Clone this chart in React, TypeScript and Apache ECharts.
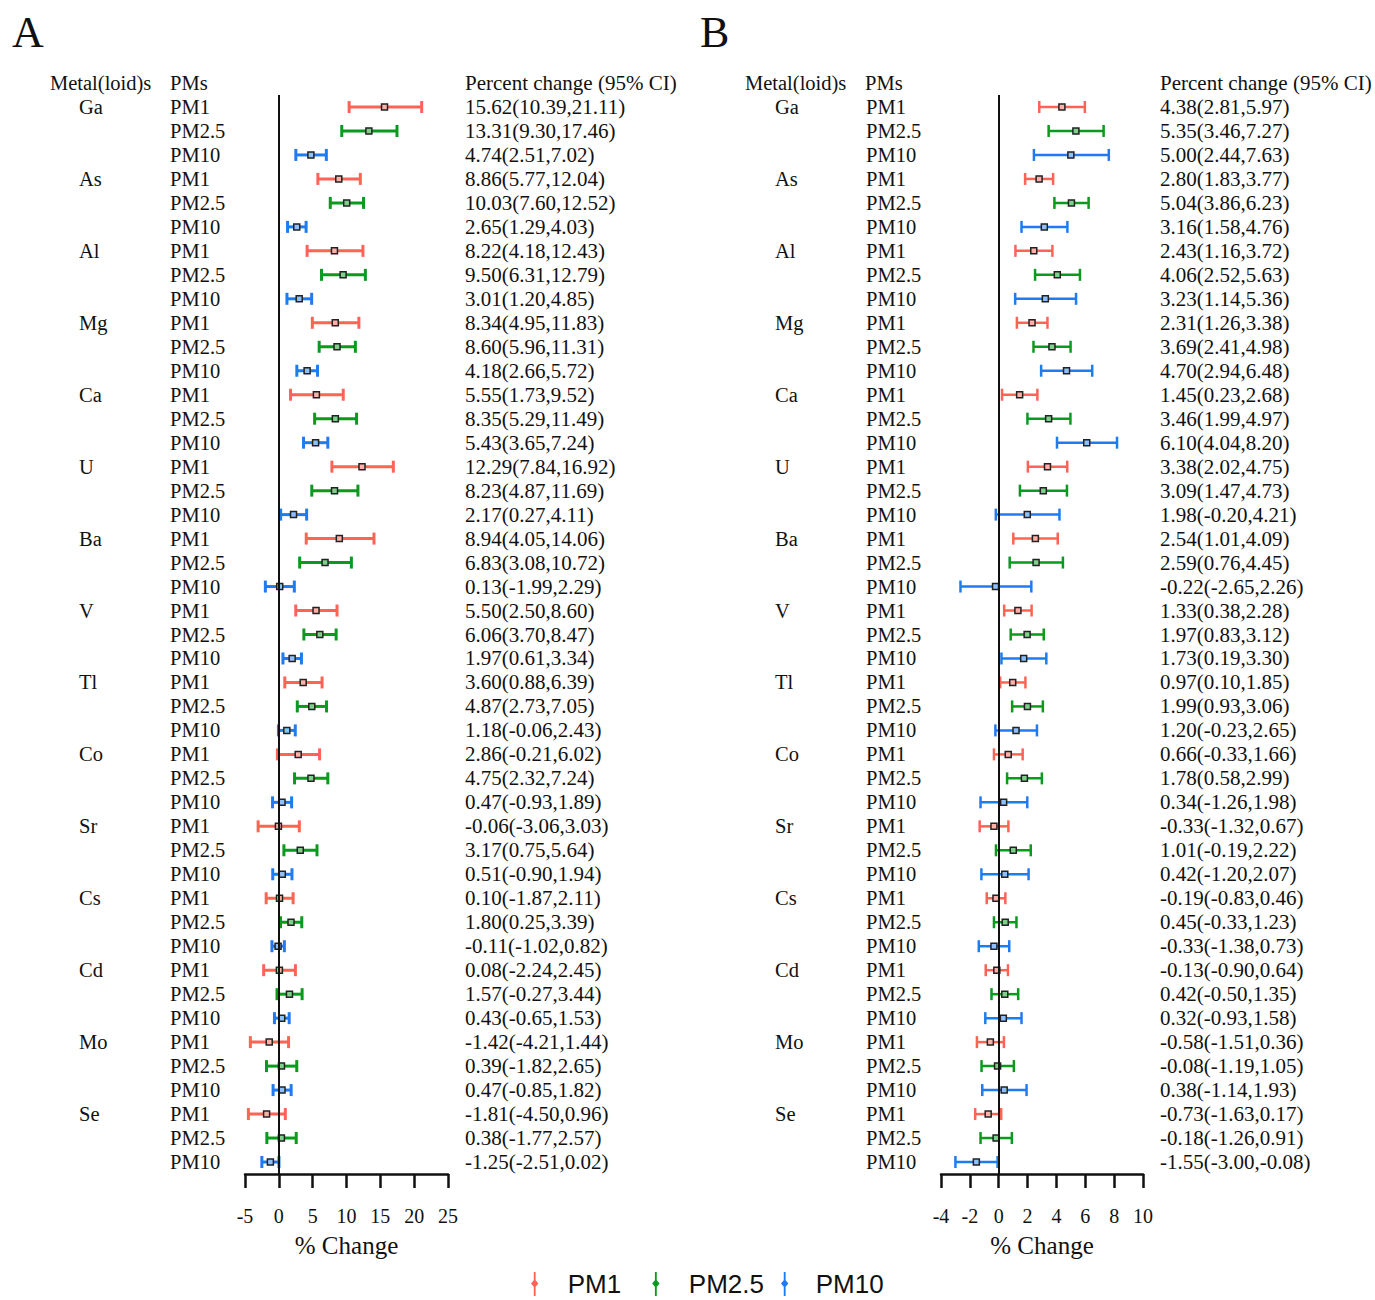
import React, { useEffect, useRef } from "react";
import * as echarts from "echarts";

const elements = ["Ga", "As", "Al", "Mg", "Ca", "U", "Ba", "V", "Tl", "Co", "Sr", "Cs", "Cd", "Mo", "Se"];
const pms = ["PM1", "PM2.5", "PM10"];

// Panel A: [estimate, lower, upper] per element for PM1, PM2.5, PM10
const aPM1 = [[15.62, 10.39, 21.11], [8.86, 5.77, 12.04], [8.22, 4.18, 12.43], [8.34, 4.95, 11.83], [5.55, 1.73, 9.52], [12.29, 7.84, 16.92], [8.94, 4.05, 14.06], [5.5, 2.5, 8.6], [3.6, 0.88, 6.39], [2.86, -0.21, 6.02], [-0.06, -3.06, 3.03], [0.1, -1.87, 2.11], [0.08, -2.24, 2.45], [-1.42, -4.21, 1.44], [-1.81, -4.5, 0.96]];
const aPM25 = [[13.31, 9.3, 17.46], [10.03, 7.6, 12.52], [9.5, 6.31, 12.79], [8.6, 5.96, 11.31], [8.35, 5.29, 11.49], [8.23, 4.87, 11.69], [6.83, 3.08, 10.72], [6.06, 3.7, 8.47], [4.87, 2.73, 7.05], [4.75, 2.32, 7.24], [3.17, 0.75, 5.64], [1.8, 0.25, 3.39], [1.57, -0.27, 3.44], [0.39, -1.82, 2.65], [0.38, -1.77, 2.57]];
const aPM10 = [[4.74, 2.51, 7.02], [2.65, 1.29, 4.03], [3.01, 1.2, 4.85], [4.18, 2.66, 5.72], [5.43, 3.65, 7.24], [2.17, 0.27, 4.11], [0.13, -1.99, 2.29], [1.97, 0.61, 3.34], [1.18, -0.06, 2.43], [0.47, -0.93, 1.89], [0.51, -0.9, 1.94], [-0.11, -1.02, 0.82], [0.43, -0.65, 1.53], [0.47, -0.85, 1.82], [-1.25, -2.51, 0.02]];

// Panel B
const bPM1 = [[4.38, 2.81, 5.97], [2.8, 1.83, 3.77], [2.43, 1.16, 3.72], [2.31, 1.26, 3.38], [1.45, 0.23, 2.68], [3.38, 2.02, 4.75], [2.54, 1.01, 4.09], [1.33, 0.38, 2.28], [0.97, 0.1, 1.85], [0.66, -0.33, 1.66], [-0.33, -1.32, 0.67], [-0.19, -0.83, 0.46], [-0.13, -0.9, 0.64], [-0.58, -1.51, 0.36], [-0.73, -1.63, 0.17]];
const bPM25 = [[5.35, 3.46, 7.27], [5.04, 3.86, 6.23], [4.06, 2.52, 5.63], [3.69, 2.41, 4.98], [3.46, 1.99, 4.97], [3.09, 1.47, 4.73], [2.59, 0.76, 4.45], [1.97, 0.83, 3.12], [1.99, 0.93, 3.06], [1.78, 0.58, 2.99], [1.01, -0.19, 2.22], [0.45, -0.33, 1.23], [0.42, -0.5, 1.35], [-0.08, -1.19, 1.05], [-0.18, -1.26, 0.91]];
const bPM10 = [[5.0, 2.44, 7.63], [3.16, 1.58, 4.76], [3.23, 1.14, 5.36], [4.7, 2.94, 6.48], [6.1, 4.04, 8.2], [1.98, -0.2, 4.21], [-0.22, -2.65, 2.26], [1.73, 0.19, 3.3], [1.2, -0.23, 2.65], [0.34, -1.26, 1.98], [0.42, -1.2, 2.07], [-0.33, -1.38, 0.73], [0.32, -0.93, 1.58], [0.38, -1.14, 1.93], [-1.55, -3.0, -0.08]];

const aTicks = { min: -5, max: 25, interval: 5 };
const bTicks = { min: -4, max: 10, interval: 2 };

const colors = ["#FF6355", "#0A9A1E", "#1F7BF2"];
const fills = ["#FFB0A8", "#7FD08A", "#8FC0FF"];

const SERIF = "'Liberation Serif', 'Times New Roman', serif";
const SANS = "'Liberation Sans', Arial, sans-serif";

function buildRows(p1: number[][], p25: number[][], p10: number[][]) {
  const rows: { el: string; pm: string; pmIdx: number; v: number[] }[] = [];
  elements.forEach((el, i) => {
    [p1, p25, p10].forEach((arr, k) => {
      rows.push({ el, pm: pms[k], pmIdx: k, v: arr[i] });
    });
  });
  return rows;
}

const fmt = (v: number[]) => `${v[0].toFixed(2)}(${v[1].toFixed(2)},${v[2].toFixed(2)})`;

export default function App() {
  const ref = useRef<HTMLDivElement>(null);
  useEffect(() => {
    if (!ref.current) return;
    const chart = echarts.init(ref.current, undefined, { renderer: "svg" });
    const panels = [
      { rows: buildRows(aPM1, aPM25, aPM10), ticks: aTicks, left: 245, width: 203, lw: 3, cap: 6 },
      { rows: buildRows(bPM1, bPM25, bPM10), ticks: bTicks, left: 941, width: 202, lw: 2.5, cap: 6 },
    ];
    const cats = panels[0].rows.map((_, i) => String(i));
    const grids: any[] = [];
    const xAxes: any[] = [];
    const yAxes: any[] = [];
    const series: any[] = [];
    panels.forEach((p, gi) => {
      grids.push({ left: p.left, width: p.width, top: 95, height: 1079 });
      xAxes.push({
        type: "value",
        gridIndex: gi,
        min: p.ticks.min,
        max: p.ticks.max,
        interval: p.ticks.interval,
        splitLine: { show: false },
        axisLine: { show: true, onZero: false, lineStyle: { color: "#111", width: 2.5 } },
        axisTick: { show: true, length: 14, lineStyle: { color: "#111", width: 2.5 } },
        axisLabel: { color: "#111", fontFamily: SERIF, fontSize: 20, margin: 32 },
        name: "% Change",
        nameLocation: "middle",
        nameGap: 59,
        nameTextStyle: { color: "#111", fontFamily: SERIF, fontSize: 25 },
      });
      const baseY = {
        type: "category",
        gridIndex: gi,
        data: cats,
        inverse: true,
        axisLine: { show: false, onZero: false },
        axisTick: { show: false },
        splitLine: { show: false },
      };
      // PM labels
      yAxes.push({
        ...baseY,
        position: "left",
        axisLabel: {
          interval: 0, align: "left", margin: 75, color: "#111", fontFamily: SERIF, fontSize: 20.5,
          formatter: (val: string) => p.rows[+val].pm,
        },
      });
      // element labels
      yAxes.push({
        ...baseY,
        position: "left",
        axisLabel: {
          interval: 0, align: "left", margin: 166, color: "#111", fontFamily: SERIF, fontSize: 20.5,
          formatter: (val: string) => (p.rows[+val].pmIdx === 0 ? p.rows[+val].el : ""),
        },
      });
      // percent change text
      yAxes.push({
        ...baseY,
        position: "right",
        axisLabel: {
          interval: 0, align: "left", margin: 17, color: "#111", fontFamily: SERIF, fontSize: 21,
          formatter: (val: string) => fmt(p.rows[+val].v),
        },
      });
      const yBase = gi * 3;
      pms.forEach((pm, k) => {
        const data = p.rows
          .map((r, i) => (r.pmIdx === k ? [r.v[0], i, r.v[1], r.v[2]] : null))
          .filter((d) => d !== null);
        series.push({
          type: "custom",
          name: pm,
          xAxisIndex: gi,
          yAxisIndex: yBase,
          itemStyle: { color: colors[k] },
          encode: { x: [0, 2, 3], y: 1 },
          data,
          renderItem: (params: any, api: any) => {
            const y = api.value(1);
            const lo = api.coord([api.value(2), y]);
            const hi = api.coord([api.value(3), y]);
            const c = api.coord([api.value(0), y]);
            const st = { stroke: colors[k], lineWidth: p.lw };
            return {
              type: "group",
              children: [
                { type: "line", shape: { x1: lo[0], y1: lo[1], x2: hi[0], y2: hi[1] }, style: st },
                { type: "line", shape: { x1: lo[0], y1: lo[1] - p.cap, x2: lo[0], y2: lo[1] + p.cap }, style: st },
                { type: "line", shape: { x1: hi[0], y1: hi[1] - p.cap, x2: hi[0], y2: hi[1] + p.cap }, style: st },
                { type: "rect", shape: { x: c[0] - 3, y: c[1] - 3, width: 6, height: 6 }, style: { fill: fills[k], stroke: "#222", lineWidth: 1.5 } },
              ],
            };
          },
          markLine: k === 0 ? {
            silent: true,
            symbol: "none",
            label: { show: false },
            lineStyle: { color: "#111", width: 2, type: "solid" },
            data: [{ xAxis: 0 }],
          } : undefined,
        });
      });
    });

    const headerStyle = { fill: "#111", font: `20.5px ${SERIF}` };
    const graphic: any[] = [
      { type: "text", left: 12, top: 10, style: { text: "A", fill: "#111", font: `44px ${SERIF}` } },
      { type: "text", left: 700, top: 10, style: { text: "B", fill: "#111", font: `44px ${SERIF}` } },
      { type: "text", x: 50, y: 83, style: { ...headerStyle, text: "Metal(loid)s", verticalAlign: "middle" } },
      { type: "text", x: 170, y: 83, style: { ...headerStyle, text: "PMs", verticalAlign: "middle" } },
      { type: "text", x: 465, y: 83, style: { ...headerStyle, font: `21px ${SERIF}`, text: "Percent change (95% CI)", verticalAlign: "middle" } },
      { type: "text", x: 745, y: 83, style: { ...headerStyle, text: "Metal(loid)s", verticalAlign: "middle" } },
      { type: "text", x: 865, y: 83, style: { ...headerStyle, text: "PMs", verticalAlign: "middle" } },
      { type: "text", x: 1160, y: 83, style: { ...headerStyle, font: `21px ${SERIF}`, text: "Percent change (95% CI)", verticalAlign: "middle" } },
    ];

    chart.setOption({
      animation: false,
      backgroundColor: "#fff",
      color: colors,
      grid: grids,
      xAxis: xAxes,
      yAxis: yAxes,
      series,
      graphic,
      legend: {
        data: [
          { name: "PM1", textStyle: { padding: [0, 20, 0, 22] } },
          { name: "PM2.5", textStyle: { padding: [0, 6, 0, 22] } },
          { name: "PM10", textStyle: { padding: [0, 0, 0, 20] } },
        ],
        left: 531,
        top: 1271,
        padding: 0,
        itemWidth: 12,
        itemHeight: 24,
        itemGap: 11,
        icon: "path://M4,0 L6,0 L6,9 L9,12.5 L6,16 L6,26 L4,26 L4,16 L1,12.5 L4,9 Z",
        textStyle: { fontFamily: SANS, fontSize: 26, lineHeight: 24, color: "#111" },
      },
    });
    return () => chart.dispose();
  }, []);
  return <div ref={ref} style={{ position: "absolute", left: 0, top: 0, width: 1375, height: 1300 }} />;
}
